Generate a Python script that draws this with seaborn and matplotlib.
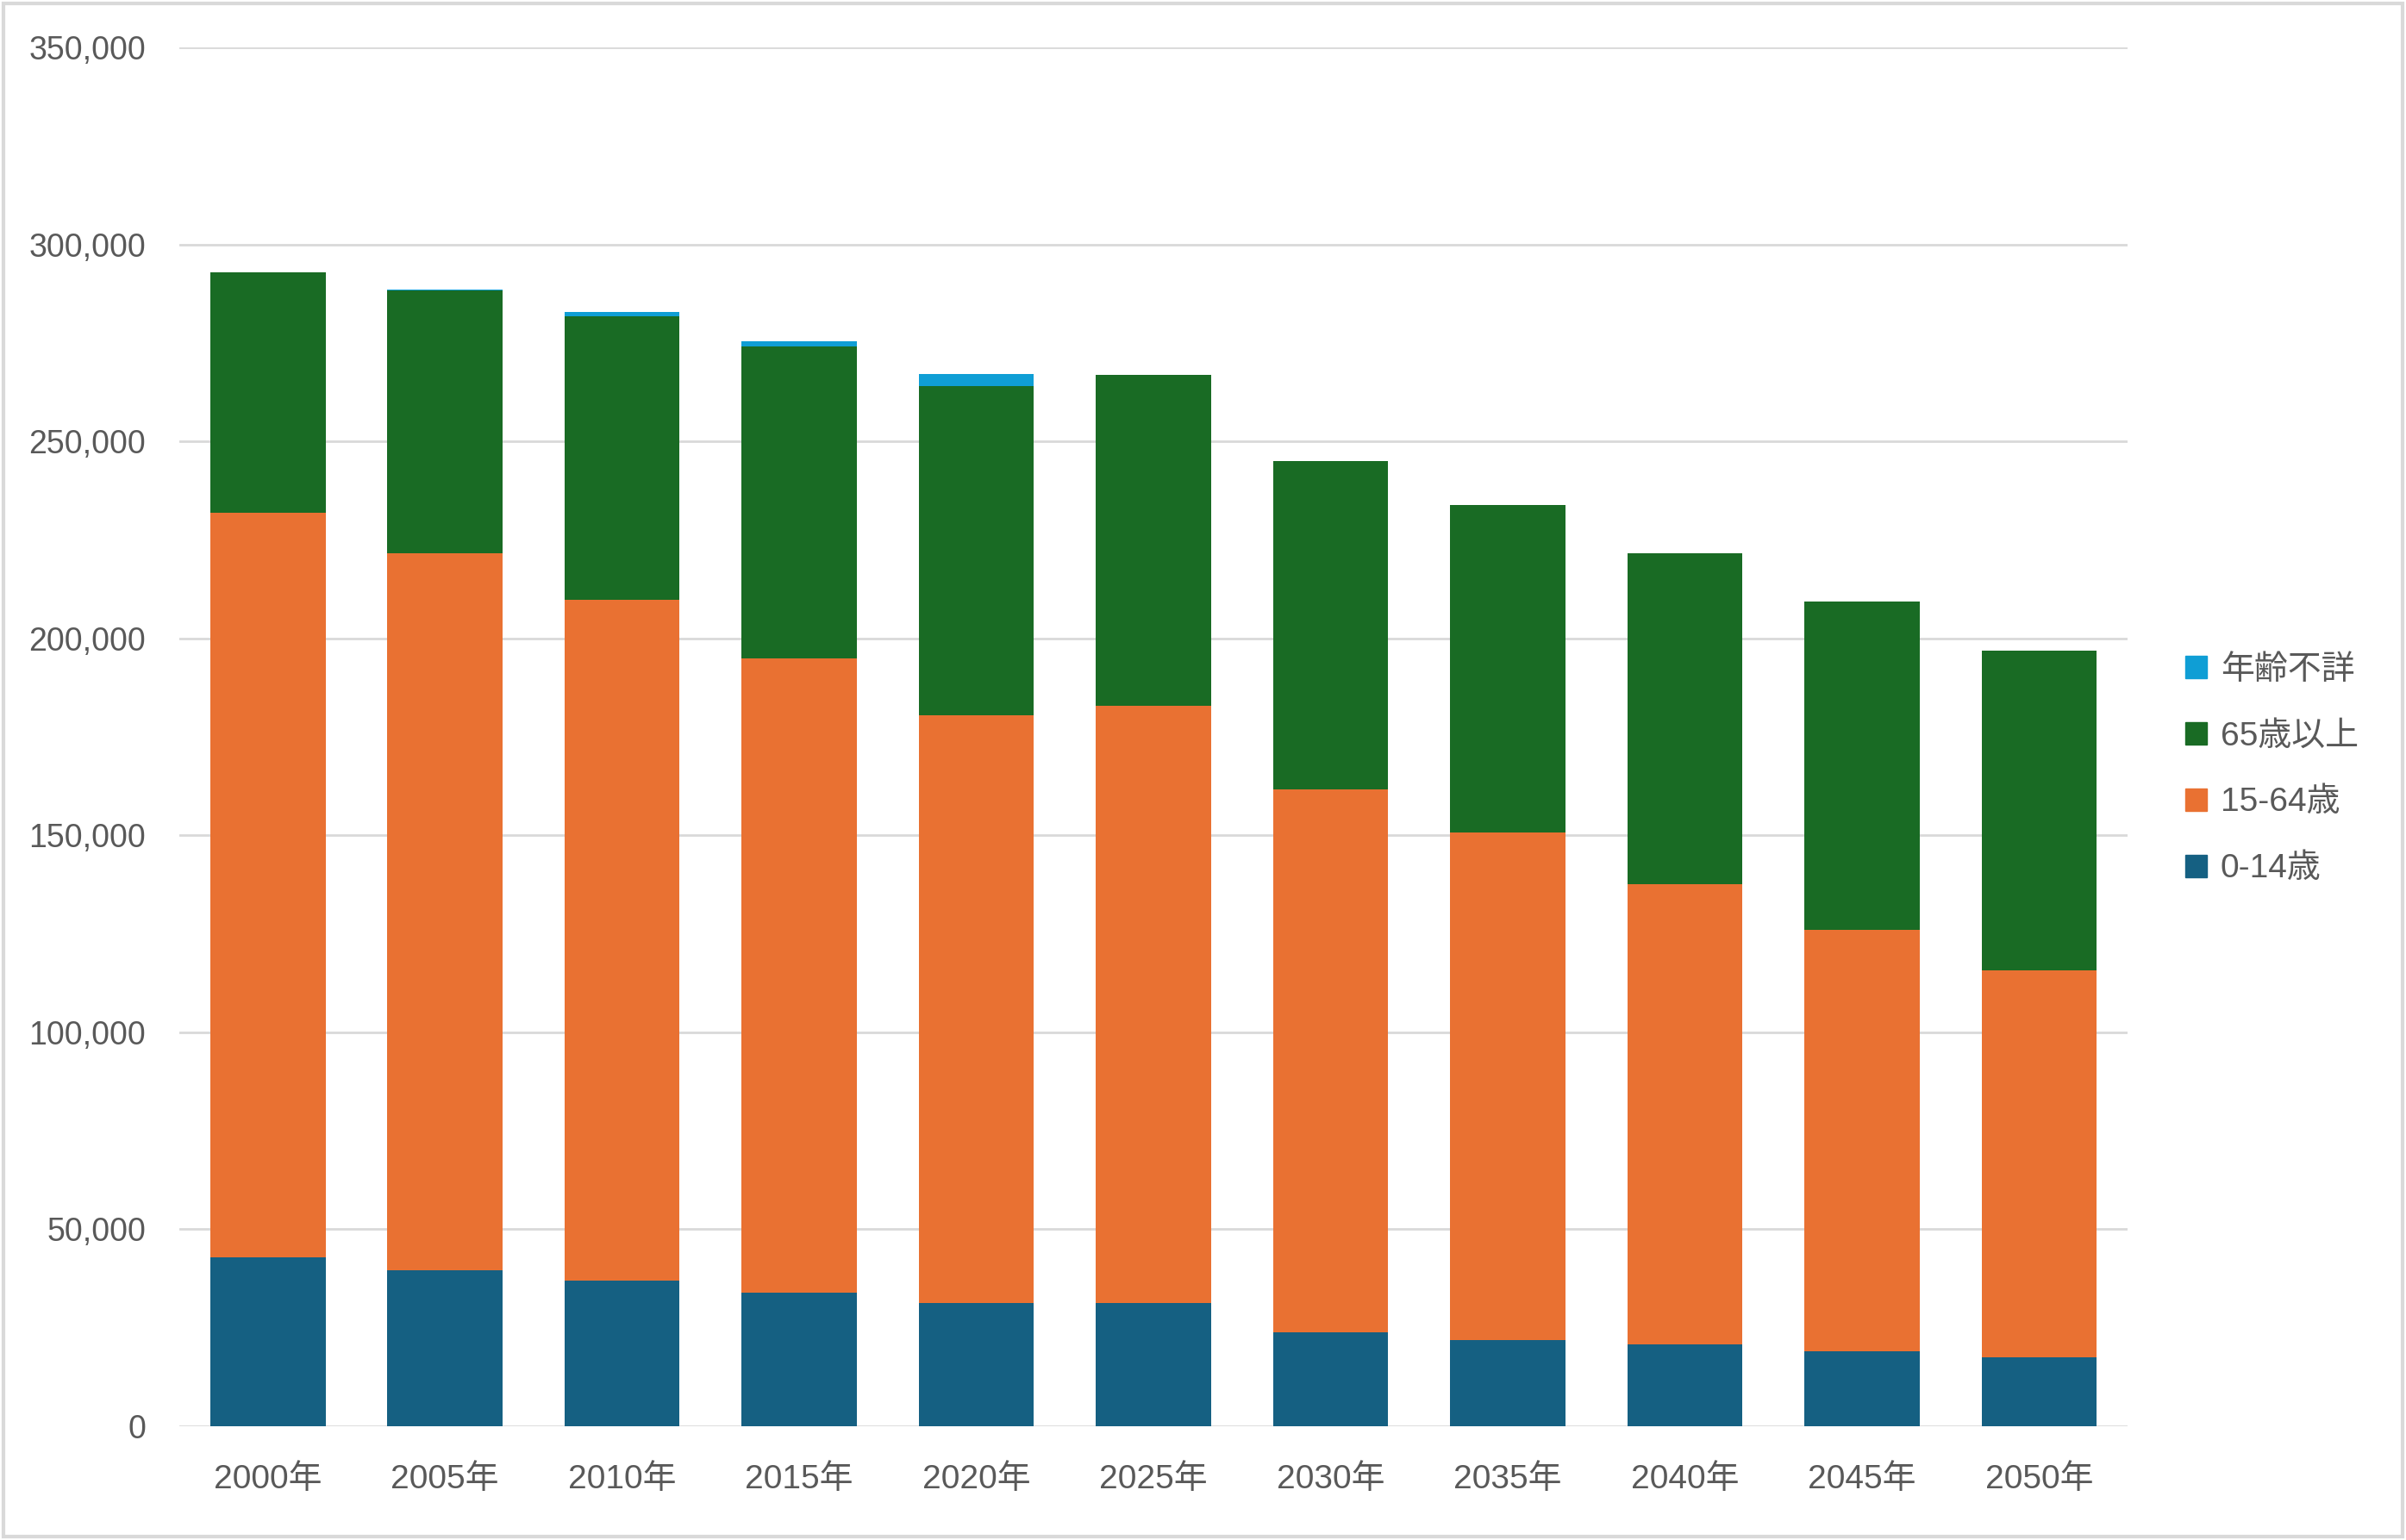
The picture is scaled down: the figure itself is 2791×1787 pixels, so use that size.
import pandas as pd
import matplotlib.pyplot as plt
import matplotlib.patches as mpatches
from matplotlib.ticker import FuncFormatter
import seaborn as sns

# 背景は白
sns.set_theme(style="white")
plt.rcParams['font.family'] = ['Liberation Sans', 'Noto Sans CJK JP', 'DejaVu Sans']

# データ
years = ['2000年', '2005年', '2010年', '2015年', '2020年', '2025年',
         '2030年', '2035年', '2040年', '2045年', '2050年']
age_0_14 = [42900, 39500, 37000, 34000, 31200, 31200, 23800, 21800, 20700, 19100, 17500]
age_15_64 = [189000, 182000, 172700, 160900, 149200, 151600, 137900, 129000, 116900, 106800, 98200]
age_65 = [60900, 66800, 72100, 79100, 83700, 84100, 83400, 83000, 84100, 83400, 81100]
unknown = [200, 300, 1000, 1300, 3000, 0, 0, 0, 0, 0, 0]

df = pd.DataFrame({'年': years, '0-14歳': age_0_14, '15-64歳': age_15_64,
                   '65歳以上': age_65, '年齢不詳': unknown})
# 積み上げ用の累積値
df['c1'] = df['0-14歳']
df['c2'] = df['c1'] + df['15-64歳']
df['c3'] = df['c2'] + df['65歳以上']
df['c4'] = df['c3'] + df['年齢不詳']

colors = {'0-14歳': '#156082', '15-64歳': '#E97132',
          '65歳以上': '#196B24', '年齢不詳': '#0F9ED5'}
text_color = '#595959'

fig = plt.figure(figsize=(27.91, 17.87), dpi=100)
ax = fig.add_axes([208 / 2791, 1 - 1655 / 1787, (2468 - 208) / 2791, (1655 - 55) / 1787])

# 上の層から順に重ねて描く
for col, name in [('c4', '年齢不詳'), ('c3', '65歳以上'), ('c2', '15-64歳'), ('c1', '0-14歳')]:
    sns.barplot(data=df, x='年', y=col, color=colors[name], width=0.65,
                saturation=1, linewidth=0, ax=ax, zorder=3)

ax.set_ylim(0, 350000)
ax.set_xlim(-0.5, len(years) - 0.5)
ax.set_yticks(range(0, 350001, 50000))
ax.yaxis.set_major_formatter(FuncFormatter(lambda v, p: f'{v:,.0f}'))
ax.yaxis.grid(True, color='#d9d9d9', linewidth=2, zorder=0)
ax.set_axisbelow(True)
for s in ax.spines.values():
    s.set_visible(False)
ax.tick_params(axis='both', length=0, colors=text_color)
ax.tick_params(axis='y', pad=28, labelsize=27)
ax.tick_params(axis='x', pad=32, labelsize=28)
ax.set_xlabel('')
ax.set_ylabel('')

# 凡例
handles = [mpatches.Patch(color=colors[n], label=n) for n in ['年齢不詳', '65歳以上', '15-64歳', '0-14歳']]
leg = fig.legend(handles=handles, loc='center left', bbox_to_anchor=(2500 / 2791, 1 - 893 / 1787),
                 frameon=False, fontsize=28, handlelength=0.65, handleheight=0.65,
                 handletextpad=0.4, labelspacing=1.05)
for t in leg.get_texts():
    t.set_color(text_color)

# 外枠
fig.patches.append(mpatches.Rectangle((4 / 2791, 4 / 1787), 1 - 8 / 2791, 1 - 8 / 1787,
                                      transform=fig.transFigure, fill=False,
                                      edgecolor='#d9d9d9', linewidth=3))

fig.savefig('out.png', dpi=100, facecolor='white')
